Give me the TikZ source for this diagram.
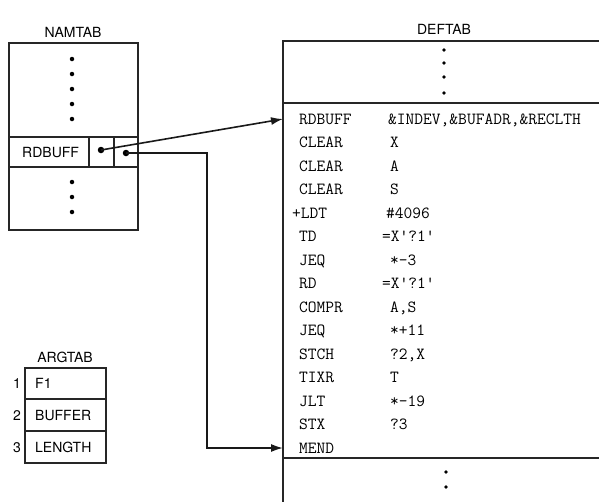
\documentclass[tikz,border=0pt]{standalone}
\usepackage{fontspec}
\setsansfont{TeX Gyre Heros}
\usepackage{tikz}
\usetikzlibrary{arrows.meta,calc}
\tikzset{
  tab/.style={draw=black!85,line width=1.1pt},
  tablabel/.style={font=\sffamily\fontsize{14}{16}\selectfont,inner sep=0pt},
  cell/.style={font=\sffamily\fontsize{14}{16}\selectfont,inner sep=0pt,
    anchor=west,text height=10pt,text depth=0pt},
  code/.style={font=\ttfamily\fontsize{17}{20}\selectfont,inner sep=0pt,
    anchor=west,text height=10pt,text depth=0pt},
  vdot/.style={circle,fill=black,inner sep=0pt,minimum size=4.5pt},
  sdot/.style={circle,fill=black,inner sep=0pt,minimum size=3.6pt},
  ptr/.style={circle,fill=black,inner sep=0pt,minimum size=6.5pt},
  pointer/.style={line width=1.6pt,draw=black!90},
  arrow/.style={pointer,-{Latex[length=12pt,width=8pt]}}
}

\begin{document}
\begin{tikzpicture}[x=1pt,y=-1pt]
  \clip (0,0) rectangle (599,501);

  % NAMTAB
  \node[tablabel] (namlabel) at (73,32) {NAMTAB};
  \draw[tab] (9,43) rectangle (138,230);
  \draw[tab] (9,137) -- (138,137) (9,167) -- (138,167)
    (89,137) -- (89,167) (114,137) -- (114,167);
  \foreach \y in {59,74,89,104,119,182,197,212}
    \node[vdot] (ndot\y) at (72,\y) {};
  \node[cell] (namrow) at (22,152) {RDBUFF};
  \node[ptr] (ptrdef) at (101,150) {};
  \node[ptr] (ptrarg) at (126,153) {};

  % DEFTAB
  \node[tablabel] (deflabel) at (444,29) {DEFTAB};
  \coordinate (defedge) at (283,41);
  \draw[tab] (283,510) -- (defedge) -- (610,41);
  \draw[tab] (283,103) -- (610,103) (283,458) -- (610,458);
  \foreach \y in {50,63,77,93}
    \node[sdot] (tdot\y) at (444,\y) {};
  \foreach \y in {472,487}
    \node[sdot] (bdot\y) at (446,\y) {};
  \foreach \op/\arg/\ox/\ax [count=\i] in {
      RDBUFF/{\&INDEV,\&BUFADR,\&RECLTH}/299/388,
      CLEAR/X/299/390, CLEAR/A/299/390, CLEAR/S/299/390,
      +LDT/\#4096/292/386, TD/{=X'?1'}/299/382, JEQ/*-3/299/390,
      RD/{=X'?1'}/299/382, COMPR/{A,S}/299/390, JEQ/*+11/299/390,
      STCH/{?2,X}/299/390, TIXR/T/299/390, JLT/*-19/299/390,
      STX/?3/299/390, MEND/{}/299/390} {
    \node[code] (op\i) at (\ox,95.5+23.5*\i) {\op};
    \node[code] (arg\i) at (\ax,95.5+23.5*\i) {\arg};
  }

  % ARGTAB
  \node[tablabel] (arglabel) at (65,357) {ARGTAB};
  \draw[tab] (25,368) rectangle (106,463);
  \draw[tab] (25,399) -- (106,399) (25,431) -- (106,431);
  \foreach \n/\txt/\y in {1/F1/383.5, 2/BUFFER/415, 3/LENGTH/447} {
    \node[cell,anchor=center] (argnum\n) at (17,\y) {\n};
    \node[cell] (argval\n) at (35,\y) {\txt};
  }

  % pointers
  \coordinate (bend) at (207,0);
  \draw[arrow] (ptrdef.center) -- (defedge |- op1.west);
  \draw[arrow] (ptrarg.center) -- (bend |- ptrarg) |- (defedge |- op15.west);
\end{tikzpicture}
\end{document}
